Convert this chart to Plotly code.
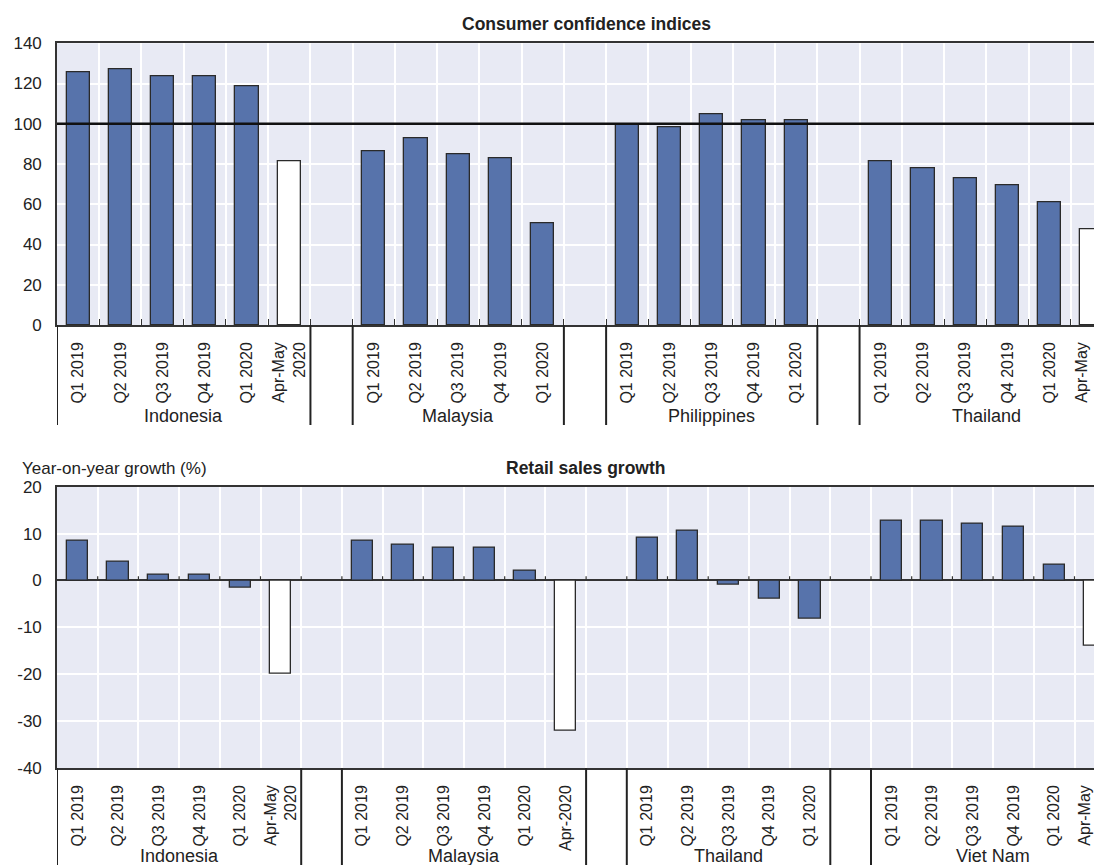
import plotly.graph_objects as go

# ---------------- data ----------------
periods_q = ["Q1 2019", "Q2 2019", "Q3 2019", "Q4 2019", "Q1 2020"]
label_aprmay = "Apr-May<br>2020"
label_apr = "Apr-2020"

# Consumer confidence indices
cci_countries = ["Indonesia", "Malaysia", "Philippines", "Thailand"]
cci_indonesia = [125.4, 127.1, 123.6, 123.6, 118.4, 81.2]
cci_malaysia = [86.1, 92.9, 84.6, 82.8, 50.7]
cci_philippines = [99.9, 98.2, 104.9, 101.5, 101.5]
cci_thailand = [81.2, 77.9, 72.7, 69.4, 61.0, 47.6]
cci_periods = [periods_q + [label_aprmay], periods_q, periods_q, periods_q + [label_aprmay]]
cci_reference = 100
cci_yticks = [0, 20, 40, 60, 80, 100, 120, 140]

# Retail sales growth (year-on-year, %)
rs_countries = ["Indonesia", "Malaysia", "Thailand", "Viet Nam"]
rs_indonesia = [8.5, 4.1, 1.2, 1.2, -1.6, -19.8]
rs_malaysia = [8.4, 7.7, 7.0, 7.0, 2.0, -32.1]
rs_thailand = [9.2, 10.7, -1.0, -3.9, -8.2]
rs_vietnam = [12.8, 12.8, 12.1, 11.4, 3.4, -13.9]
rs_periods = [periods_q + [label_aprmay], periods_q + [label_apr], periods_q, periods_q + [label_aprmay]]
rs_yticks = [-40, -30, -20, -10, 0, 10, 20]

# ---------------- styling ----------------
OFF = 8                     # page body margin
W, H = 1102 - OFF, 865 - OFF
ML = 57 - OFF
BLUE = "#5773ab"
EDGE = "#2a2a2a"
BG = "#e8eaf4"
TXT = "#222222"
REG = "Liberation Sans, Arial, sans-serif"


def py(px):
    """screen pixel (from top of reference) -> paper y"""
    return 1 - (px - OFF) / H


def pxx(px):
    """screen pixel (from left of reference) -> paper x"""
    return (px - OFF - ML) / (W - ML)


def build(groups_vals, groups_periods):
    xs, ys, labels, colors = [], [], [], []
    centers, seps = [], [-0.5]
    pos = 0
    for vals, pers in zip(groups_vals, groups_periods):
        start = pos
        for v, p in zip(vals, pers):
            xs.append(pos)
            ys.append(v)
            labels.append(p)
            colors.append("white" if p.startswith("Apr") else BLUE)
            pos += 1
        centers.append((start + pos - 1) / 2)
        seps += [pos - 0.5, pos + 0.5]
        pos += 1
    return xs, ys, labels, colors, centers, seps, pos


t_x, t_y, t_lab, t_col, t_cent, t_seps, t_n = build(
    [cci_indonesia, cci_malaysia, cci_philippines, cci_thailand], cci_periods)
b_x, b_y, b_lab, b_col, b_cent, b_seps, b_n = build(
    [rs_indonesia, rs_malaysia, rs_thailand, rs_vietnam], rs_periods)

t_slot = 42.24
b_slot = 40.7
t_range = [-0.5, -0.5 + (W - ML) / t_slot]
b_range = [-0.5, -0.5 + (W - ML) / b_slot]

t_dom = [py(325), py(43.3)]
b_dom = [py(768), py(486.7)]

fig = go.Figure()
fig.add_trace(go.Bar(x=t_x, y=t_y, marker=dict(color=t_col, line=dict(color=EDGE, width=1.3)),
                     width=0.55, xaxis="x", yaxis="y", showlegend=False))
fig.add_trace(go.Bar(x=b_x, y=b_y, marker=dict(color=b_col, line=dict(color=EDGE, width=1.3)),
                     width=0.52, xaxis="x2", yaxis="y2", showlegend=False))


def xaxis_cfg(xs, labels, n, rng, anchor, minor_ticks):
    bounds = [i + 0.5 for i in range(n)]
    return dict(
        domain=[0, 1], anchor=anchor, range=rng, showgrid=False, zeroline=False,
        automargin=False, ticklabeloverflow="allow",
        tickmode="array", tickvals=xs, ticktext=labels, tickangle=-90,
        ticks="", ticklabelstandoff=9,
        tickfont=dict(family=REG, size=16, color=TXT),
        showline=True, linecolor="#333", linewidth=1.6, mirror=True,
        minor=dict(tickmode="array", tickvals=bounds, showgrid=True, gridcolor="white",
                   gridwidth=1.5, ticks="inside" if minor_ticks else "", ticklen=6,
                   tickcolor="#333", tickwidth=1.2),
    )


def yaxis_cfg(dom, anchor, rng, ticks, zl):
    return dict(domain=dom, anchor=anchor, range=rng, automargin=False,
                tickmode="array", tickvals=ticks, ticktext=[str(t) for t in ticks],
                showgrid=True, gridcolor="white", gridwidth=1.5,
                zeroline=zl, zerolinecolor="#333", zerolinewidth=1.6,
                showline=True, linecolor="#333", linewidth=1.6, ticks="",
                ticklabelstandoff=10, tickfont=dict(family=REG, size=17, color=TXT))


fig.update_layout(
    width=W, height=H, margin=dict(l=ML, r=0, t=0, b=0, autoexpand=False),
    paper_bgcolor="white", plot_bgcolor=BG, bargap=0,
    xaxis=xaxis_cfg(t_x, t_lab, t_n, t_range, "y", True),
    xaxis2=xaxis_cfg(b_x, b_lab, b_n, b_range, "y2", False),
    yaxis=yaxis_cfg(t_dom, "x", [0, 140], cci_yticks, False),
    yaxis2=yaxis_cfg(b_dom, "x2", [-40, 20], rs_yticks, True),
)

shapes = []
# reference line at 100
shapes.append(dict(type="line", xref="x domain", yref="y", x0=0, x1=1,
                   y0=cci_reference, y1=cci_reference, line=dict(color="#111", width=2.6)))
# group separators below the axes
for s in t_seps:
    shapes.append(dict(type="line", xref="x", yref="paper", x0=s, x1=s,
                       y0=t_dom[0], y1=py(425), line=dict(color="#222", width=2)))
for s in b_seps:
    shapes.append(dict(type="line", xref="x2", yref="paper", x0=s, x1=s,
                       y0=b_dom[0], y1=0, line=dict(color="#222", width=2)))
# small boundary ticks on the zero line (bottom panel)
for i in range(b_n):
    shapes.append(dict(type="line", xref="x2", yref="y2", x0=i + 0.5, x1=i + 0.5,
                       y0=0, y1=0.9, line=dict(color="#333", width=1.2)))
fig.update_layout(shapes=shapes)

ann = []
for name, c in zip(cci_countries, t_cent):
    ann.append(dict(text=name, x=c, xref="x", y=py(416), yref="paper", showarrow=False,
                    xanchor="center", yanchor="middle",
                    font=dict(family=REG, size=18, color=TXT)))
for name, c in zip(rs_countries, b_cent):
    ann.append(dict(text=name, x=c, xref="x2", y=py(856), yref="paper", showarrow=False,
                    xanchor="center", yanchor="middle",
                    font=dict(family=REG, size=18, color=TXT)))
ann.append(dict(text="<b>Consumer confidence indices</b>", x=pxx(586), xref="paper",
                y=py(24), yref="paper", showarrow=False, xanchor="center", yanchor="middle",
                font=dict(family=REG, size=17.5, color=TXT)))
ann.append(dict(text="<b>Retail sales growth</b>", x=pxx(586), xref="paper",
                y=py(468), yref="paper", showarrow=False, xanchor="center", yanchor="middle",
                font=dict(family=REG, size=17.5, color=TXT)))
ann.append(dict(text="Year-on-year growth (%)", x=pxx(20), xref="paper",
                y=py(468), yref="paper", showarrow=False, xanchor="left", yanchor="middle",
                font=dict(family=REG, size=17, color=TXT)))
fig.update_layout(annotations=ann)

fig.write_html("out.html")
